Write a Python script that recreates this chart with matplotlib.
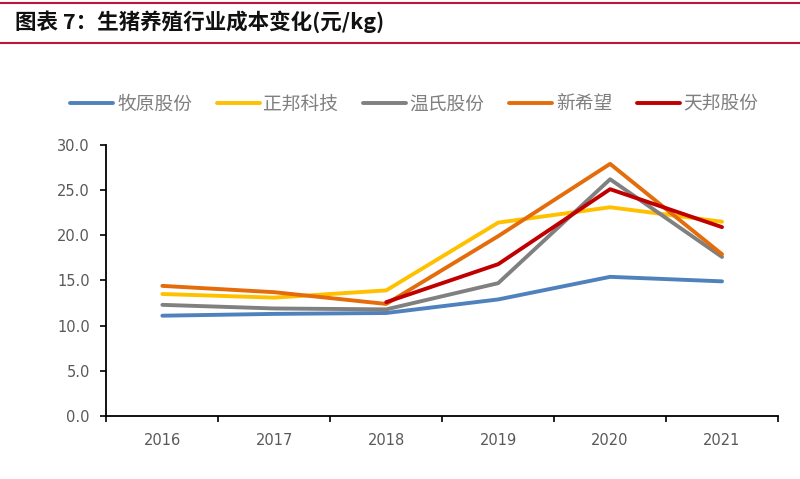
import matplotlib
matplotlib.use("Agg")
import matplotlib.pyplot as plt
from matplotlib.lines import Line2D
from matplotlib.ticker import FixedLocator, FormatStrFormatter

# digits in DejaVu, Chinese falls back to Noto CJK
plt.rcParams['font.family'] = ['DejaVu Sans', 'Noto Sans CJK SC']
CJK = ['Noto Sans CJK SC', 'DejaVu Sans']

# data
years = ['2016', '2017', '2018', '2019', '2020', '2021']
muyuan = [11.1, 11.3, 11.4, 12.9, 15.4, 14.9]
zhengbang = [13.5, 13.1, 13.9, 21.4, 23.1, 21.5]
wens = [12.3, 11.9, 11.8, 14.7, 26.2, 17.6]
xinxiwang = [14.4, 13.7, 12.4, 19.9, 27.9, 17.9]
tianbang = [None, None, 12.6, 16.8, 25.1, 20.9]

series = [
    ('牧原股份', muyuan, '#4F81BD'),
    ('正邦科技', zhengbang, '#FFC000'),
    ('温氏股份', wens, '#808080'),
    ('新希望', xinxiwang, '#E46C0A'),
    ('天邦股份', tianbang, '#C00000'),
]

fig = plt.figure(figsize=(8, 4.79), dpi=100)

# title bar with red rules
fig.add_artist(Line2D([0, 1], [1 - 3 / 479, 1 - 3 / 479], color='#C0143C', lw=1.5))
fig.add_artist(Line2D([0, 1], [1 - 43 / 479, 1 - 43 / 479], color='#C0143C', lw=1.5))
fig.text(0.019, 1 - 22 / 479, '图表 7：生猪养殖行业成本变化(元/kg)', fontsize=15.5,
         fontweight='bold', va='center', ha='left', color='#111111', family=CJK)

ax = fig.add_axes([0.133, 0.1315, 0.8395, 0.566])
xs = list(range(len(years)))
handles = []
for name, vals, color in series:
    px = [x for x, v in zip(xs, vals) if v is not None]
    py = [v for v in vals if v is not None]
    h, = ax.plot(px, py, color=color, lw=2.8, label=name, solid_capstyle='round')
    handles.append(h)

ax.set_xlim(-0.5, 5.5)
ax.set_ylim(0, 30)
ax.set_yticks([0, 5, 10, 15, 20, 25, 30])
ax.yaxis.set_major_formatter(FormatStrFormatter('%.1f'))
ax.set_xticks(xs)
ax.set_xticklabels(years)
ax.xaxis.set_minor_locator(FixedLocator([-0.5, 0.5, 1.5, 2.5, 3.5, 4.5, 5.5]))
ax.tick_params(axis='x', which='major', length=0, pad=12, labelsize=10.5, labelcolor='#595959')
ax.tick_params(axis='x', which='minor', length=4, width=1.2, direction='out', color='black')
ax.tick_params(axis='y', length=4, width=1.2, direction='out', labelsize=10.5,
               labelcolor='#595959', pad=8)
for s in ['top', 'right']:
    ax.spines[s].set_visible(False)
for s in ['left', 'bottom']:
    ax.spines[s].set_linewidth(1.3)
    ax.spines[s].set_color('black')

fig.legend(handles=handles, loc='center', bbox_to_anchor=(0.518, 1 - 104 / 479), ncol=5,
           frameon=False, prop={'family': CJK, 'size': 13.5}, handlelength=2.3,
           handletextpad=0.2, columnspacing=1.3, labelcolor='#7F7F7F')

fig.savefig('out.png', dpi=100)
